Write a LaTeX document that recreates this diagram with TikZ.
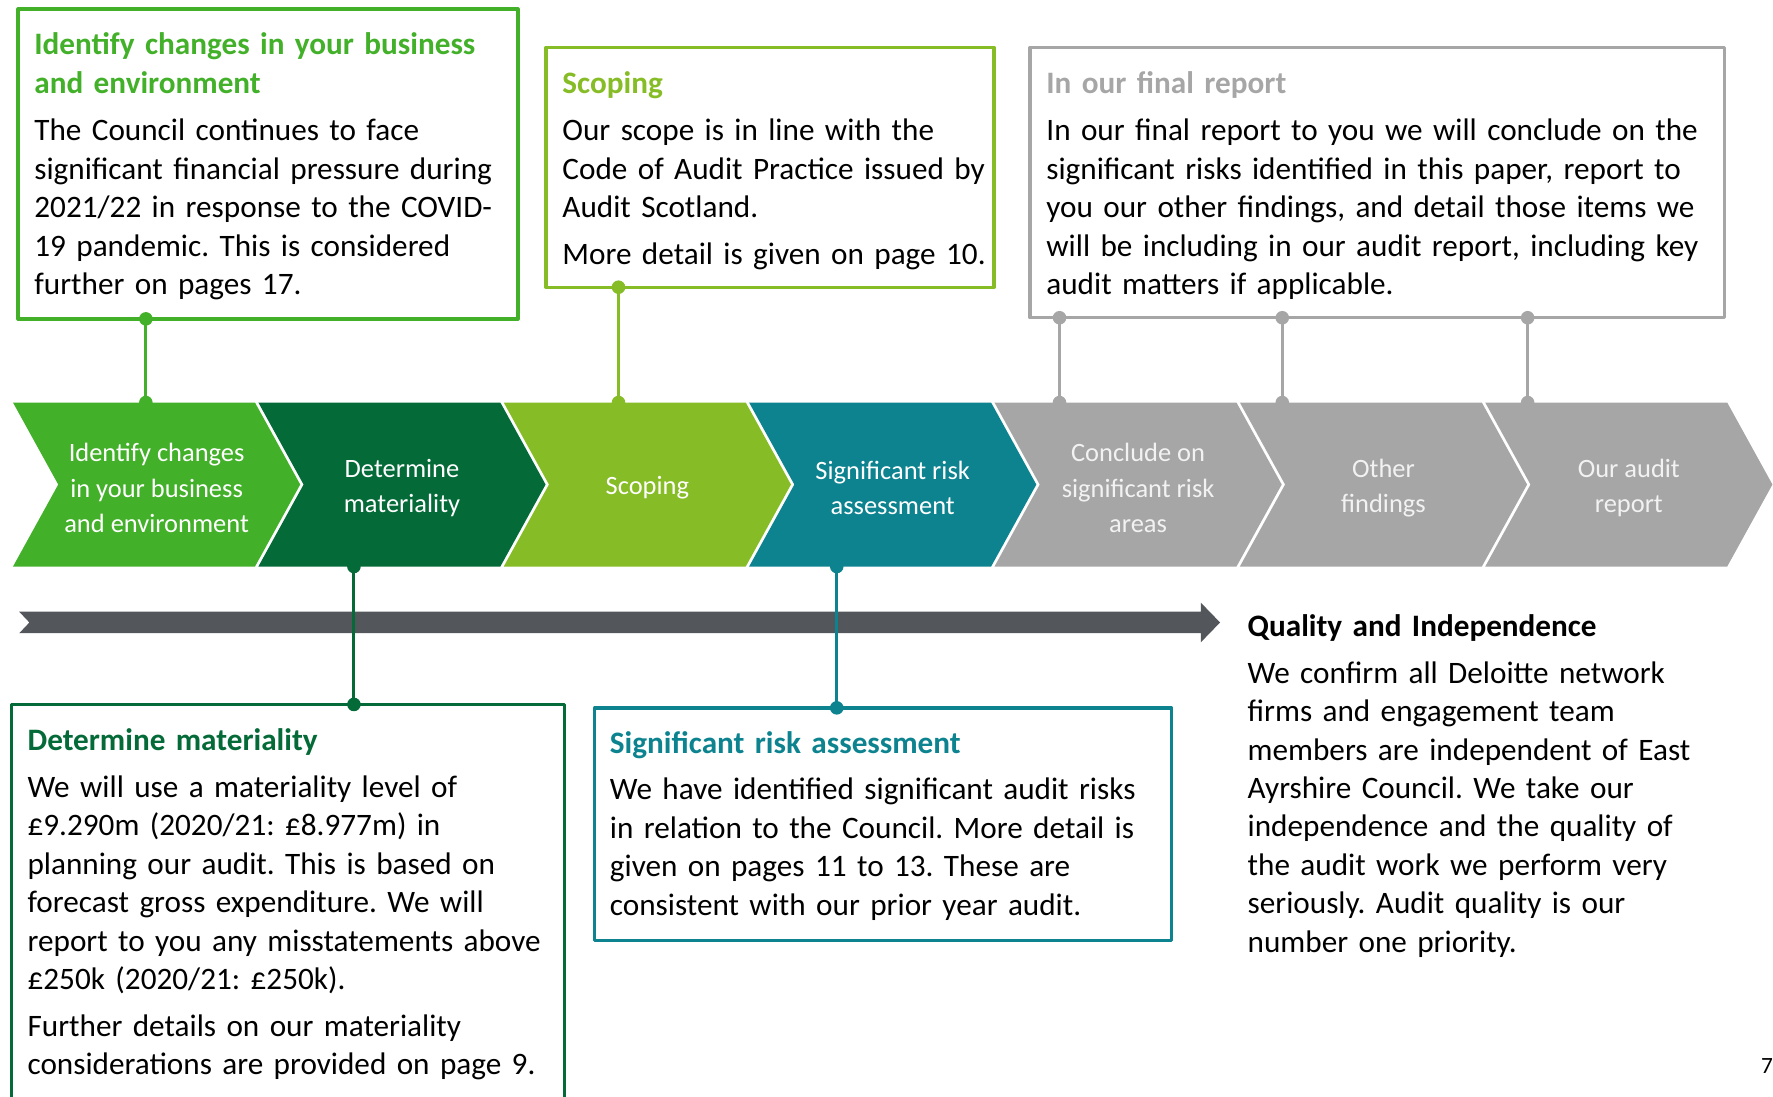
\documentclass[tikz,border=0pt]{standalone}
\usepackage{fontspec}
\setmainfont{Carlito}
\frenchspacing
\definecolor{idgreen}{HTML}{43B02A}
\definecolor{matgreen}{HTML}{046A38}
\definecolor{scopegreen}{HTML}{86BC25}
\definecolor{riskteal}{HTML}{0D8390}
\definecolor{stepgray}{HTML}{A6A6A6}
\definecolor{steplabel}{HTML}{F2F2F2}
\definecolor{arrowgray}{HTML}{53565A}
\begin{document}
\begin{tikzpicture}[x=0.5pt,y=-0.5pt,line join=round,line cap=round,
  infobox/.style={draw=#1,line width=1.5pt,inner sep=0pt,outer sep=0pt,anchor=north west},
  boxtext/.style={anchor=base west,inner sep=0pt,align=left,text width=#1,font=\fontsize{13.8}{17}\selectfont},
  steptext/.style={align=center,inner sep=0pt,font=\fontsize{11.7}{15.75}\selectfont},
  boxlink/.style={draw=#1,line width=1.3pt}]
\useasboundingbox (0,0) rectangle (1568,970);
% process chevrons
\foreach \i/\col/\tcol/\txt in {
    0/idgreen/white/{Identify changes\\in your business\\and environment},
    1/matgreen/white/{Determine\\materiality},
    2/scopegreen/white/{Scoping},
    3/riskteal/white/{Significant risk\\assessment},
    4/stepgray/steplabel/{Conclude on\\significant risk\\areas},
    5/stepgray/steplabel/{Other\\findings},
    6/stepgray/steplabel/{Our audit\\report}}{
  \pgfmathsetmacro\L{11.5+217*\i}
  \fill[\col] (\L,356) -- ++(214,0) -- ++(40,72.5) -- ++(-40,72.5) -- ++(-214,0) -- ++(40,-72.5) -- cycle;
  \node[steptext,text=\tcol] (ch\i) at (\L+127,431.5) {\txt};
}
% timeline arrow
\fill[arrowgray] (17,541) -- (1062,541) -- (1062,533) -- (1079,550.5) -- (1062,568) -- (1062,560) -- (17,560) -- (26,550.5) -- cycle;
% boxes above
\node[infobox=idgreen,minimum width=221pt,minimum height=137pt] (idbox) at (16,8) {};
\node[boxtext=215pt] (idtext) at (30,48.5) {{\bfseries\color{idgreen}Identify changes in your business\\and environment}\\[4pt]The Council continues to face\\significant financial pressure during\\2021/22 in response to the COVID-\\19 pandemic.  This is considered\\further on pages 17.};
\node[infobox=scopegreen,minimum width=198pt,minimum height=106pt] (scopebox) at (483,42) {};
\node[boxtext=190pt] (scopetext) at (497,82.5) {{\bfseries\color{scopegreen}Scoping}\\[4pt]Our scope is in line with the\\Code of Audit Practice issued by\\Audit Scotland.\\[3.5pt]More detail is given on page 10.};
\node[infobox=stepgray,minimum width=307pt,minimum height=119.5pt] (finalbox) at (911,42) {};
\node[boxtext=300pt] (finaltext) at (925,82.5) {{\bfseries\color{stepgray}In our final report}\\[4pt]In our final report to you we will conclude on the\\significant risks identified in this paper, report to\\you our other findings, and detail those items we\\will be including in our audit report, including key\\audit matters if applicable.};
% boxes below
\node[infobox=matgreen,draw=none,minimum width=244.5pt,minimum height=173.5pt] (matbox) at (10,623) {};
\draw[matgreen,line width=1.5pt] (matbox.south west) -- (matbox.north west) -- (matbox.north east) -- (matbox.south east);
\node[boxtext=240pt] (mattext) at (24,664) {{\bfseries\color{matgreen}Determine materiality}\\[3.6pt]We will use a materiality level of\\£9.290m (2020/21: £8.977m) in\\planning our audit.  This is based on\\forecast gross expenditure. We will\\report to you any misstatements above\\£250k (2020/21: £250k).\\[3.6pt]Further details on our materiality\\considerations are provided on page 9.};
\node[infobox=riskteal,minimum width=255pt,minimum height=103pt] (riskbox) at (526,626) {};
\node[boxtext=250pt] (risktext) at (539,666) {{\bfseries\color{riskteal}Significant risk assessment}\\[3.6pt]We have identified significant audit risks\\in relation to the Council. More detail is\\given on pages 11 to 13. These are\\consistent with our prior year audit.};
\node[boxtext=230pt] (qualtext) at (1103,563) {{\bfseries Quality and Independence}\\[3.6pt]We confirm all Deloitte network\\firms and engagement team\\members are independent of East\\Ayrshire Council. We take our\\independence and the quality of\\the audit work we perform very\\seriously. Audit quality is our\\number one priority.};
% connectors
\coordinate (idin) at (129,356);
\coordinate (scopein) at (547,356);
\coordinate (concin) at (937,356);
\coordinate (othin) at (1134,356);
\coordinate (repin) at (1351,356);
\coordinate (matout) at (313,501);
\coordinate (riskout) at (740,501);
\draw[boxlink=idgreen] (idin |- idbox.south) -- (idin);
\fill[idgreen] (idin |- idbox.south) circle (3pt) (idin) circle (3pt);
\draw[boxlink=scopegreen] (scopein |- scopebox.south) -- (scopein);
\fill[scopegreen] (scopein |- scopebox.south) circle (3pt) (scopein) circle (3pt);
\foreach \p in {concin,othin,repin}{
  \draw[boxlink=stepgray] (\p |- finalbox.south) -- (\p);
  \fill[stepgray] (\p |- finalbox.south) circle (3pt) (\p) circle (3pt);
}
\draw[boxlink=matgreen] (matout) -- (matout |- matbox.north);
\fill[matgreen] (matout) circle (3pt) (matout |- matbox.north) circle (3pt);
\draw[boxlink=riskteal] (riskout) -- (riskout |- riskbox.north);
\fill[riskteal] (riskout) circle (3pt) (riskout |- riskbox.north) circle (3pt);
\node[anchor=base west,inner sep=0pt,font=\fontsize{10.3}{12}\selectfont] (pagenum) at (1557,949) {7};
\end{tikzpicture}
\end{document}
